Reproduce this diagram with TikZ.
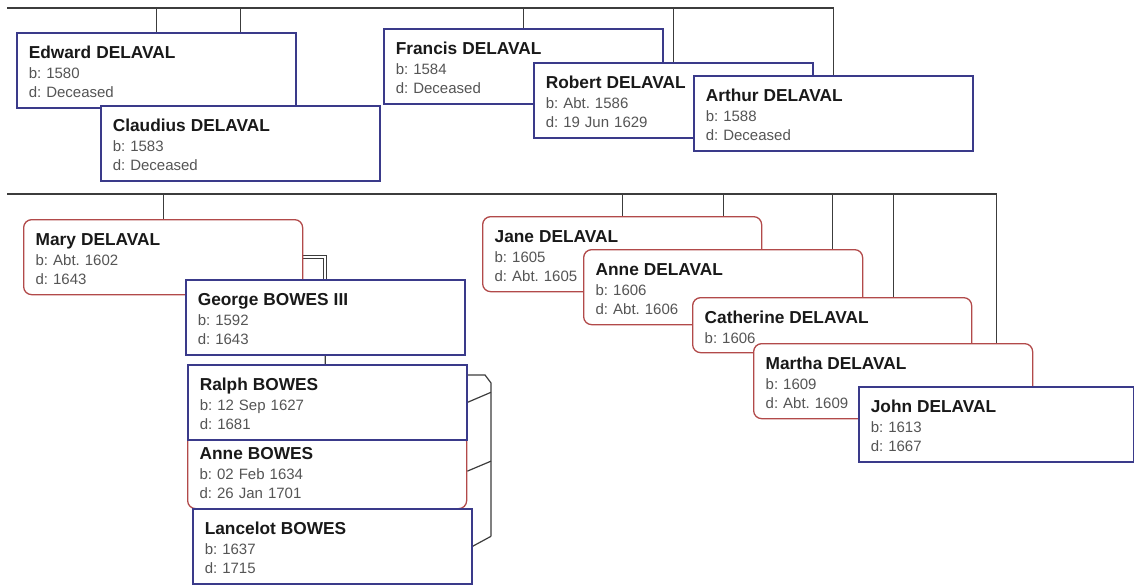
\documentclass[tikz,border=0pt]{standalone}
\usepackage{fontspec}
\setmainfont{Liberation Sans}
\usetikzlibrary{calc}
\pgfdeclarelayer{links}
\pgfsetlayers{links,main}

\definecolor{bluebox}{RGB}{58,58,138}
\definecolor{redbox}{RGB}{178,74,74}
\definecolor{linkcol}{RGB}{60,60,60}
\definecolor{nametext}{RGB}{25,25,25}
\definecolor{infotext}{RGB}{85,85,85}

\tikzset{
  card/.style={anchor=north west, fill=white, inner xsep=12pt, inner ysep=0pt,
    text width=255pt, align=left, text height=26pt, text depth=49pt,
    font=\fontsize{15}{18.5}\selectfont\frenchspacing, text=infotext},
  male/.style={card, draw=bluebox, line width=1.6pt},
  female/.style={card, draw=redbox, line width=1.3pt, rounded corners=8pt},
  link/.style={draw=linkcol, line width=1.2pt},
}
\newcommand\who[1]{{\fontsize{17.3}{18.5}\selectfont\bfseries\color{nametext}#1}\\[1.5pt]}

\begin{document}
\begin{tikzpicture}[x=1pt,y=-1pt]
\useasboundingbox (0,0) rectangle (1134,584);

% parents' generation
\node[male] (edward)   at (16,32)  {\who{Edward DELAVAL}b: 1580\\d: Deceased};
\node[male] (claudius) at (100,105) {\who{Claudius DELAVAL}b: 1583\\d: Deceased};
\node[male] (francis)  at (383,28) {\who{Francis DELAVAL}b: 1584\\d: Deceased};
\node[male] (robert)   at (533,62) {\who{Robert DELAVAL}b: Abt. 1586\\d: 19 Jun 1629};
\node[male] (arthur)   at (693,75) {\who{Arthur DELAVAL}b: 1588\\d: Deceased};

% children
\node[female] (mary)   at (23,219)  {\who{Mary DELAVAL}b: Abt. 1602\\d: 1643};
\node[male]   (george) at (185,279) {\who{George BOWES III}b: 1592\\d: 1643};
\node[female] (anneb)  at (187,433) {\who{Anne BOWES}b: 02 Feb 1634\\d: 26 Jan 1701};
\node[male]   (ralph)  at (187,364) {\who{Ralph BOWES}b: 12 Sep 1627\\d: 1681};
\node[male]   (lancelot) at (192,508) {\who{Lancelot BOWES}b: 1637\\d: 1715};

\node[female] (jane)      at (482,216) {\who{Jane DELAVAL}b: 1605\\d: Abt. 1605};
\node[female] (anned)     at (583,249) {\who{Anne DELAVAL}b: 1606\\d: Abt. 1606};
\node[female, text depth=29pt] (catherine) at (692,297) {\who{Catherine DELAVAL}b: 1606};
\node[female] (martha)    at (753,343) {\who{Martha DELAVAL}b: 1609\\d: Abt. 1609};
\node[male, text width=251pt] (john) at (858,386) {\who{John DELAVAL}b: 1613\\d: 1667};

\begin{pgfonlayer}{links}
  % sibling bus lines
  \coordinate (topbus) at (7,8);
  \coordinate (midbus) at (7,194);
  \draw[link] (topbus) -| (arthur.north);
  \foreach \p in {edward,claudius,francis,robert}
    \draw[link] (\p.north) -- (\p.north |- topbus);
  \draw[link] (midbus) -| (john.north);
  \foreach \p in {mary,jane,anned,catherine,martha}
    \draw[link] (\p.north) -- (\p.north |- midbus);

  % marriage
  \draw[link, line width=0.9pt, double=white, double distance=2.2pt] (mary.east) -| (george.north);

  % children of George and Mary
  \coordinate (kin) at (491,383);
  \draw[link] (george.south) |- ($(kin)+(-6,-8)$) -- (kin) -- ($(lancelot.east -| kin)+(0,-10)$);
  \foreach \c in {ralph,anneb,lancelot}
    \draw[link] (\c.east) -- ($(\c.east -| kin)+(0,-10)$);
\end{pgfonlayer}
\end{tikzpicture}
\end{document}
